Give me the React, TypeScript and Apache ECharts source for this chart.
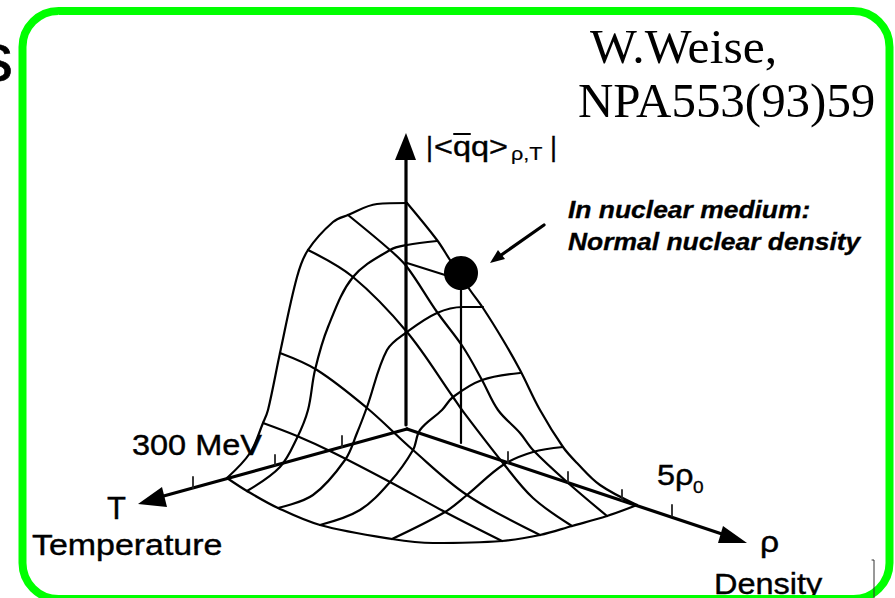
import React, { useEffect, useRef } from "react";
import * as echarts from "echarts";

type P = [number, number];

const backEdge: P[] = [[227,478],[250,453],[263,423],[268,410],[280,353],[297,277],[308,250],[333,222],[348,215],[377,204],[407,203]];
const ridgeEdge: P[] = [[407,203],[437,240],[450,260],[470,290],[483,308],[503,340],[520,370],[540,410],[563,447],[577,463],[600,485],[637,505]];
const frontEdge: P[] = [[227,478],[247,491],[278,508],[320,525],[392,539],[433,543],[502,541],[540,535],[572,526],[607,516],[637,505]];

const crossA: P[] = [[348,215],[390,250],[407,267],[437,312],[463,347],[482,380],[498,410],[520,433],[533,450],[567,482],[607,516]];
const crossB: P[] = [[308,250],[353,277],[407,332],[453,397],[462,410],[503,463],[533,498],[572,526]];
const crossC: P[] = [[280,353],[317,370],[367,408],[413,450],[467,495],[540,535]];
const crossD: P[] = [[263,423],[297,436],[332,452],[390,482],[445,512],[502,541]];

const alongA: P[] = [[247,491],[280,467],[297,438],[308,410],[315,370],[328,327],[353,277],[390,250],[407,245],[437,241]];
const alongB: P[] = [[278,508],[313,495],[345,460],[357,433],[367,407],[387,350],[407,332],[437,313],[463,307],[483,307]];
const alongC: P[] = [[320,525],[360,510],[390,482],[413,450],[420,430],[442,410],[453,397],[482,380],[520,373]];
const alongD: P[] = [[392,539],[445,512],[467,495],[503,465],[533,452],[563,447]];
const dotBranch: P[] = [[407,263],[445,275]];
const dropLine: P[] = [[461,273],[461,443]];

const surfaceCurves: P[][] = [backEdge, ridgeEdge, frontEdge, crossA, crossB, crossC, crossD, alongA, alongB, alongC, alongD];
const straightThin: P[][] = [dotBranch, dropLine];

const axisUp: P[] = [[406,425],[406,155]];
const axisT: P[] = [[407,429],[160,497]];
const axisRho: P[] = [[407,429],[725,535]];
const calloutShaft: P[] = [[544,225],[497,258]];
const axes: P[][] = [axisUp, axisT, axisRho, calloutShaft];

const ticks: P[][] = [
  [[193,477],[193,488]], [[275,455],[275,465]], [[342,436],[342,447]],
  [[508,452],[508,463]], [[568,472],[568,482]], [[622,490],[622,500]], [[672,505],[672,516]],
];
const qBar: P[] = [[454,134],[470,134]];
const thinMark: P[] = [[872,560],[874,560],[874,598]];

const arrowHeads: number[][] = [
  [406,133,395,160,416,160],
  [138,504,162,487,167,507],
  [747,543,723,526,718,543],
  [490,263,498,250,505,259],
];
const nuclearPoint: P[] = [[461,273]];

const sans = "'Liberation Sans', Arial, sans-serif";
const serif = "'Liberation Serif', 'Times New Roman', serif";

const labels: [string, number, number, number, string, number, string, number][] = [
  ["s", -21, 80, 68, sans, 1, "", 0.6],
  ["W.Weise,", 590, 63, 48, serif, 1.035, "", 0],
  ["NPA553(93)59", 578, 117, 48, serif, 1.02, "", 0],
  ["|", 426, 156, 27, sans, 1, "", 0.3],
  ["<qq>", 434, 156, 27, sans, 1.2, "", 0.4],
  ["ρ,T", 511, 160, 18, sans, 1.2, "", 0.2],
  ["|", 550, 156, 27, sans, 1, "", 0.3],
  ["In nuclear medium:", 568, 218, 23, sans, 1.15, "bold italic ", 0.3],
  ["Normal nuclear density", 568, 250, 23, sans, 1.15, "bold italic ", 0.3],
  ["300 MeV", 132, 455, 29, sans, 1.12, "", 0.4],
  ["5ρ", 657, 485, 29, sans, 1.12, "", 0.4],
  ["0", 693, 493, 17, sans, 1.12, "", 0.3],
  ["ρ", 760, 552, 30, sans, 1.12, "", 0.4],
  ["Density", 714, 594, 29, sans, 1.12, "", 0.4],
  ["T", 107, 519, 31, sans, 1, "", 0.4],
  ["Temperature", 32, 555, 29, sans, 1.17, "", 0.4],
];

const lineSeries = (data: P[], width: number, smooth: number | boolean, color = "#000", z = 2) => ({
  type: "line",
  data,
  smooth,
  symbol: "none",
  silent: true,
  clip: false,
  z,
  lineStyle: { color, width, cap: "round", join: "round", opacity: 1 },
});

export default function App() {
  const ref = useRef<HTMLDivElement>(null);
  useEffect(() => {
    const chart = echarts.init(ref.current!, null, { renderer: "svg" });
    chart.setOption({
      animation: false,
      backgroundColor: "#ffffff",
      grid: { left: 0, right: 0, top: 0, bottom: 0 },
      xAxis: { type: "value", min: 0, max: 895, show: false },
      yAxis: { type: "value", min: 0, max: 598, inverse: true, show: false },
      graphic: [
        ...labels.map(([text, x, base, size, family, sx, weight, stroke]) => ({
          type: "text",
          x,
          y: base - size * 0.345,
          scaleX: sx,
          z: 3,
          silent: true,
          style: {
            text,
            fill: "#000",
            stroke: stroke ? "#000" : undefined,
            lineWidth: stroke,
            font: `${weight}${size}px ${family}`,
            align: "left",
            verticalAlign: "middle",
          },
        })),
        {
          type: "rect",
          z: 100,
          silent: true,
          shape: { x: 22.5, y: 11, width: 867, height: 588, r: 36 },
          style: { fill: "transparent", stroke: "#00ff00", lineWidth: 8 },
        },
      ],
      series: [
        ...surfaceCurves.map((c) => lineSeries(c, 2.2, 0.35)),
        ...straightThin.map((c) => lineSeries(c, 2.2, false)),
        ...axes.map((c) => lineSeries(c, 3.2, false)),
        ...ticks.map((c) => lineSeries(c, 1.8, false, "#222")),
        lineSeries(qBar, 2, false),
        lineSeries(thinMark, 1, false, "#333", 200),
        {
          type: "custom",
          silent: true,
          clip: false,
          z: 4,
          data: arrowHeads,
          renderItem: (_: any, api: any) => {
            const pts = [0, 2, 4].map((i) => api.coord([api.value(i), api.value(i + 1)]));
            return { type: "polygon", shape: { points: pts }, style: { fill: "#000" } };
          },
        },
        {
          type: "scatter",
          silent: true,
          z: 5,
          data: nuclearPoint,
          symbol: "circle",
          symbolSize: 34,
          itemStyle: { color: "#000", opacity: 1 },
        },
      ],
    });
    return () => chart.dispose();
  }, []);
  return <div ref={ref} style={{ position: "fixed", left: 0, top: 0, width: 895, height: 598 }} />;
}
